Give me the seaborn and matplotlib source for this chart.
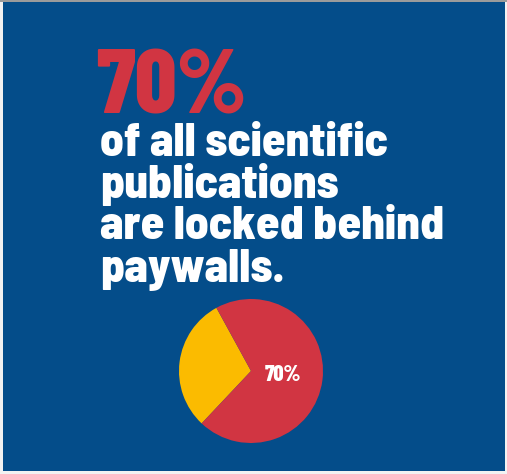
import matplotlib
matplotlib.use("Agg")
import matplotlib.pyplot as plt
import matplotlib.patches as mpatches
import seaborn as sns

# data
headline = "70%"
body_lines = ["of all scientific", "publications", "are locked behind", "paywalls."]
shares = [30, 70]                      # not locked / locked behind paywalls
share_labels = ["Open", "Paywalled"]

# colours
bg_blue = "#044d8a"
red = "#d13542"
yellow = "#fbbb00"

sns.set_theme(style="white")
plt.rcParams['font.family'] = ['Barlow Condensed', 'Fira Sans Extra Condensed', 'DejaVu Sans']
body_font = ['Barlow Semi Condensed', 'Barlow Condensed', 'DejaVu Sans']

fig = plt.figure(figsize=(5.07, 4.74), dpi=100, facecolor="#f2f2f2")

# blue panel
bg = fig.add_axes([0, 0, 1, 1])
bg.set_axis_off()
bg.add_patch(mpatches.Rectangle((3 / 507, 3 / 474), 502 / 507, 469 / 474,
                                transform=fig.transFigure, color=bg_blue, lw=0))
bg.plot([0, 1], [473.5 / 474, 473.5 / 474], color="#8a8a8a", lw=1.2,
        transform=fig.transFigure)

# headline + text
fig.text(96 / 507, 1 - 113 / 474, headline, color=red, fontsize=66,
         fontweight=800, va="baseline", ha="left")
baselines = [156, 198, 239, 282]
for line, yb in zip(body_lines, baselines):
    fig.text(100 / 507, 1 - yb / 474, line, color="white", fontsize=34,
             fontweight=800, va="baseline", ha="left", family=body_font)

# pie
cx, cy, r = 251, 371, 72
ax = fig.add_axes([(cx - r) / 507, (474 - cy - r) / 474, 2 * r / 507, 2 * r / 474])
pal = sns.color_palette([yellow, red])
ax.pie(shares, colors=pal, startangle=118.7, counterclock=True,
       autopct=lambda p: f"{p:.0f}%" if p > 50 else "", pctdistance=0.45,
       wedgeprops=dict(linewidth=0),
       textprops=dict(color="white", fontsize=16, fontweight=800))
ax.set_xlim(-1, 1)
ax.set_ylim(-1, 1)
ax.set_aspect("equal")
ax.set_axis_off()

fig.savefig("out.png", dpi=100, facecolor=fig.get_facecolor())
